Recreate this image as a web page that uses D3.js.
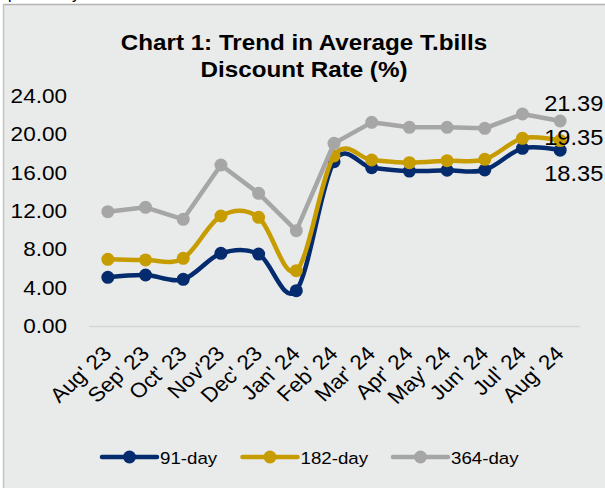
<!DOCTYPE html>
<html>
<head>
<meta charset="utf-8">
<script src="https://cdn.jsdelivr.net/npm/d3@7"></script>
<style>
  body { margin: 0; background: #fff; }
  svg text { font-family: Arial, "Liberation Sans", sans-serif; fill: #000; }
</style>
</head>
<body>
<div class="chart"></div>
<script>
const W = 605
const H = 488

// values
const months = ["Aug' 23","Sep' 23","Oct' 23","Nov'23","Dec' 23","Jan' 24","Feb' 24","Mar' 24","Apr' 24","May' 24","Jun' 24","Jul' 24","Aug' 24"]
const rate91  = [5.08, 5.32, 4.87, 7.58, 7.51, 3.69, 17.15, 16.52, 16.17, 16.25, 16.28, 18.54, 18.35]
const rate182 = [6.96, 6.89, 7.06, 11.48, 11.34, 5.77, 17.74, 17.32, 17.04, 17.25, 17.39, 19.58, 19.35]
const rate364 = [11.93, 12.38, 11.13, 16.8, 13.84, 9.95, 19.06, 21.25, 20.73, 20.73, 20.63, 22.12, 21.39]
const seriesNames = ["91-day", "182-day", "364-day"]
const yTicks = [0, 4, 8, 12, 16, 20, 24]
const endLabels = ["18.35", "19.35", "21.39"]

const colors = ["#032b6e", "#c79c00", "#a6a6a6"]
const smooth = [true, true, false]
const sx = 1.1   // the picture is a bit stretched sideways

const series = seriesNames.map((name, i) => ({
    name: name,
    values: [rate91, rate182, rate364][i],
    color: colors[i],
    smooth: smooth[i],
    label: endLabels[i]
}))

const svg = d3.select(".chart").append("svg")
    .attr("width", W)
    .attr("height", H)

// frame
svg.append("rect")
    .attr("x", 3).attr("y", 4)
    .attr("width", W).attr("height", H)
    .attr("fill", "#e9eaea")
svg.append("line").attr("x1", 3).attr("x2", W).attr("y1", 4.5).attr("y2", 4.5)
    .attr("stroke", "#b4b4b4").attr("stroke-width", 1.5)
svg.append("line").attr("x1", 3.5).attr("x2", 3.5).attr("y1", 4).attr("y2", H)
    .attr("stroke", "#c4c4c4").attr("stroke-width", 1.5)

// cut-off text above the frame
svg.append("text")
    .attr("x", 8).attr("y", -1)
    .attr("font-size", 16)
    .text("previously")

// title
const title = svg.append("g").attr("transform", "translate(304,0)")
title.append("text")
    .attr("transform", `translate(0,50) scale(${sx},1)`)
    .attr("text-anchor", "middle")
    .attr("font-size", 22).attr("font-weight", "bold")
    .text("Chart 1: Trend in Average T.bills")
title.append("text")
    .attr("transform", `translate(0,77) scale(${sx},1)`)
    .attr("text-anchor", "middle")
    .attr("font-size", 22).attr("font-weight", "bold")
    .text("Discount Rate (%)")

const xScale = d3.scaleBand()
    .domain(months)
    .range([89, 579])
const xMid = m => xScale(m) + xScale.bandwidth() / 2

const yScale = d3.scaleLinear()
    .domain([0, 24])
    .range([326, 96])

// y axis, labels only
const yAxis = svg.append("g")
    .attr("transform", "translate(89,0)")
    .call(d3.axisLeft(yScale).tickValues(yTicks).tickFormat(d3.format(".2f")).tickSize(0).tickPadding(22))
yAxis.select(".domain").remove()
yAxis.selectAll("text")
    .attr("font-size", 20.5)
    .attr("font-family", null)
    .attr("fill", "#000")
    .attr("transform", `translate(-22,0) scale(${sx},1)`)
    .attr("x", 0)

// x axis: baseline + rotated labels
const xAxis = svg.append("g")
    .attr("transform", "translate(0,326)")
    .call(d3.axisBottom(xScale).tickSize(0))
xAxis.select(".domain")
    .attr("stroke", "#d6d6d6")
    .attr("stroke-width", 1.5)
xAxis.selectAll("text")
    .attr("font-size", 20.5)
    .attr("font-family", null)
    .attr("fill", "#000")
    .attr("text-anchor", "end")
    .attr("y", 0).attr("dy", 0)
    .attr("transform", `translate(5,29) scale(${sx},1) rotate(-45)`)

// lines
const lineSmooth = d3.line()
    .x((d, i) => xMid(months[i]))
    .y(d => yScale(d))
    .curve(d3.curveCardinal.tension(0))
const lineStraight = d3.line()
    .x((d, i) => xMid(months[i]))
    .y(d => yScale(d))

const groups = svg.selectAll(".series")
    .data(series)
    .enter()
    .append("g")
    .attr("class", "series")

groups.append("path")
    .attr("d", d => d.smooth ? lineSmooth(d.values) : lineStraight(d.values))
    .attr("fill", "none")
    .attr("stroke", d => d.color)
    .attr("stroke-width", 4.5)
    .attr("stroke-linejoin", "round")

groups.selectAll("circle")
    .data(d => d.values.map(v => ({v: v, color: d.color})))
    .enter()
    .append("circle")
    .attr("cx", (d, i) => xMid(months[i]))
    .attr("cy", d => yScale(d.v))
    .attr("r", 6.5)
    .attr("fill", d => d.color)

// end labels for Aug' 24
const labelOffset = [31, 4.5, -10]
const last = months[months.length - 1]
svg.selectAll(".endlabel")
    .data(series)
    .enter()
    .append("text")
    .attr("class", "endlabel")
    .attr("transform", (d, i) => `translate(${xMid(last) - 16},${yScale(d.values[d.values.length - 1]) + labelOffset[i]}) scale(${sx},1)`)
    .attr("font-size", 21.5)
    .text(d => d.label)

// legend
const legendX = [102, 242.5, 393]
const legend = svg.selectAll(".legend")
    .data(series)
    .enter()
    .append("g")
    .attr("class", "legend")
    .attr("transform", (d, i) => `translate(${legendX[i]},457)`)
legend.append("line")
    .attr("x1", 0).attr("x2", 55)
    .attr("stroke", d => d.color)
    .attr("stroke-width", 4.5)
    .attr("stroke-linecap", "round")
legend.append("circle")
    .attr("cx", 27.5)
    .attr("r", 6.5)
    .attr("fill", d => d.color)
legend.append("text")
    .attr("transform", `translate(58,7) scale(${sx},1)`)
    .attr("font-size", 17)
    .text(d => d.name)
</script>
</body>
</html>
